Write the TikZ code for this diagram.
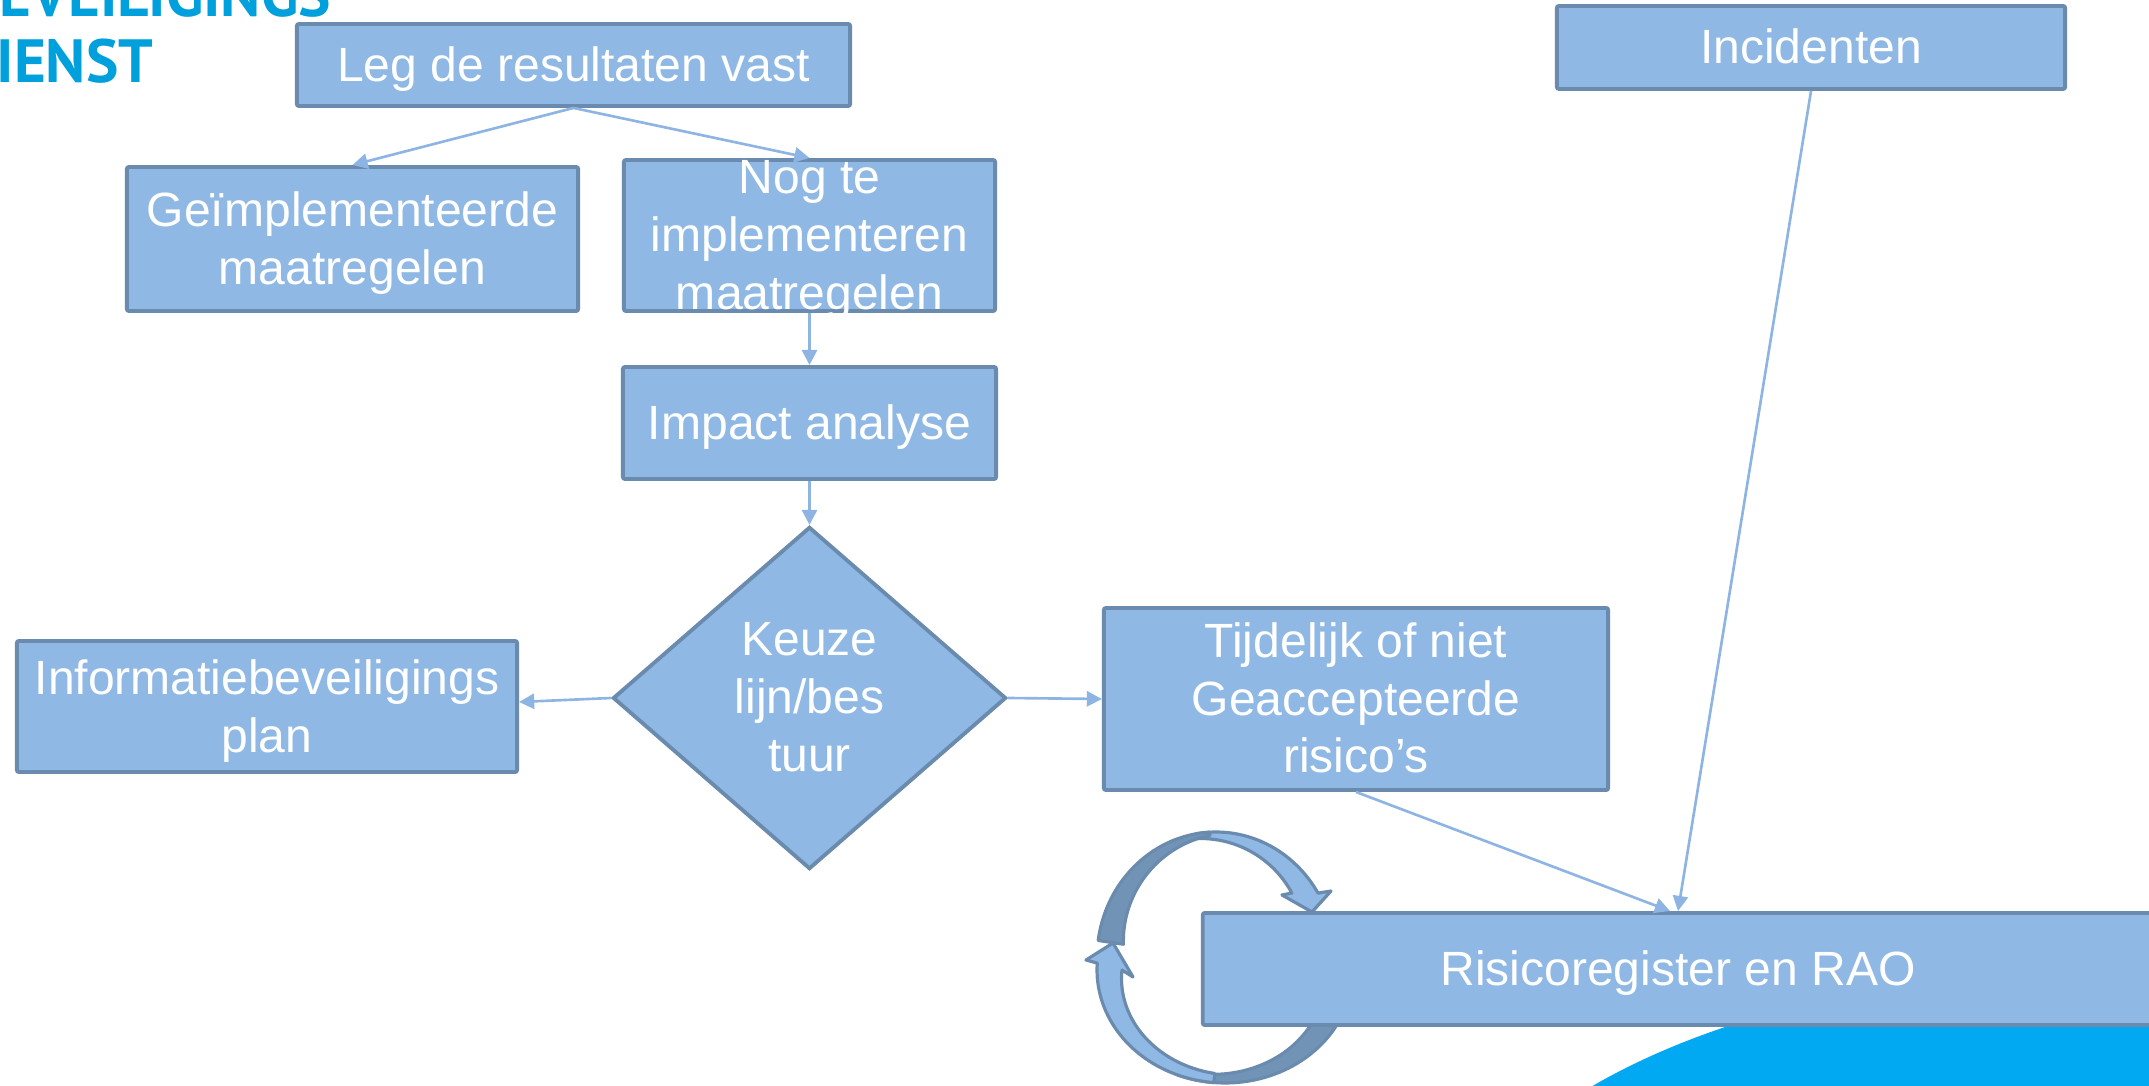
\documentclass[tikz,border=0pt]{standalone}
\usepackage{fontspec}
\setmainfont{Liberation Sans}
\newfontfamily\hdrfont{PT Sans}
\usetikzlibrary{arrows.meta,shapes.geometric}
\definecolor{boxfill}{RGB}{143,185,228}
\definecolor{boxline}{RGB}{106,139,173}
\definecolor{linkcol}{RGB}{141,180,226}
\definecolor{backface}{RGB}{113,148,182}
\definecolor{blob}{RGB}{0,169,241}
\definecolor{hdr}{RGB}{0,160,220}
\tikzset{
  box/.style={draw=boxline, fill=boxfill, line width=1.1pt, rounded corners=0.6pt, inner sep=0pt, rectangle},
  lbl/.style={text=white, inner sep=0pt, align=center, font=\fontsize{13.66}{16.39}\selectfont},
  link/.style={draw=linkcol, line width=0.75pt, -{Triangle[length=4.3pt,width=4.3pt]}},
  ring/.style={draw=boxline, line width=0.9pt, line join=round},
  hdrtext/.style={anchor=base west, inner sep=0pt, text=hdr, font=\hdrfont\bfseries\fontsize{17.36}{20}\selectfont},
}
\begin{document}
\begin{tikzpicture}[x=0.01cm, y=-0.01cm]
\useasboundingbox (0,0) rectangle (2149,1086);
\clip (0,0) rectangle (2149,1086);

% decorative blob
\fill[blob] (2100,1300) ellipse [x radius=6.66cm, y radius=3.3cm];

% circular arrows: top arrow
\filldraw[ring, fill=boxfill] plot[domain=100:31, samples=40] ({1216+119*cos(\x)},{958-126*sin(\x)})
  -- (1331,891) -- (1312,912) -- (1282,895) -- (1292,893)
  -- plot[domain=39:100, samples=40] ({1216+119*(0.82+(\x-39)*0.00233)*cos(\x)},{958-126*(0.82+(\x-39)*0.00233)*sin(\x)})
  -- cycle;
\filldraw[ring, fill=backface] plot[domain=172:93, samples=40] ({1216+119*cos(\x)},{958-126*sin(\x)})
  -- plot[domain=93:172, samples=40] ({1216+119*(0.975-(\x-93)*0.0024)*cos(\x)},{958-126*(0.975-(\x-93)*0.0024)*sin(\x)})
  -- cycle;
% bottom arrow
\filldraw[ring, fill=backface] plot[domain=-20:-112, samples=40] ({1225+128*cos(\x)},{970-113*sin(\x)})
  -- plot[domain=-112:-20, samples=40] ({1225+128*(0.8+(-20-(\x))*0.0017)*cos(\x)},{970-113*(0.8+(-20-(\x))*0.0017)*sin(\x)})
  -- cycle;
\filldraw[ring, fill=boxfill] plot[domain=-95:-183.5, samples=40] ({1225+128*cos(\x)},{970-113*sin(\x)})
  -- (1086,960) -- (1113,943) -- (1133,977) -- (1122,970)
  -- plot[domain=-180:-95, samples=40] ({1225+128*(0.805+((\x)+180)*0.00135)*cos(\x)},{970-113*(0.805+((\x)+180)*0.00135)*sin(\x)})
  -- cycle;

% boxes
\node[box, minimum width=5.53cm, minimum height=0.82cm] (leg) at (573.5,65) {};
\node[box, minimum width=4.51cm, minimum height=1.44cm] (geim) at (352.5,239) {};
\node[box, minimum width=3.71cm, minimum height=1.51cm] (nog) at (809.5,235.5) {};
\node[box, minimum width=3.73cm, minimum height=1.12cm] (imp) at (809.5,423) {};
\node[draw=boxline, fill=boxfill, line width=1.1pt, diamond, inner sep=0pt,
      minimum width=3.93cm, minimum height=3.42cm] (dia) at (809.5,698) {};
\node[box, minimum width=5.00cm, minimum height=1.31cm] (info) at (267,706.5) {};
\node[box, minimum width=5.04cm, minimum height=1.82cm] (tij) at (1356,699) {};
\node[box, minimum width=5.08cm, minimum height=0.83cm] (inc) at (1811,47.5) {};
\node[box, minimum width=9.50cm, minimum height=1.12cm] (ris) at (1678,969) {};

% connectors
\draw[link] (leg.south) -- (geim.north);
\draw[link] (leg.south) -- (nog.north);
\draw[link] (nog.south) -- (imp.north);
\draw[link] (imp.south) -- (dia.north);
\draw[link] (dia.west) -- ([yshift=0.045cm]info.east);
\draw[link] (dia.east) -- (tij.west);
\draw[link] (tij.south) -- ([xshift=-0.08cm]ris.north);
\draw[link] (inc.south) -- (ris.north);

% labels
\node[lbl] (legT) at (573.5,69.4) {Leg de resultaten vast};
\node[lbl] (geimT) at (352.5,243.2) {Geïmplementeerde\\maatregelen};
\node[lbl] (nogT) at (809.5,239.9) {Nog te\\implementeren\\maatregelen};
\node[lbl] (impT) at (809.5,427.4) {Impact analyse};
\node[lbl] (diaT) at (809.5,697.3) {Keuze\\lijn/bes\\tuur};
\node[lbl] (infoT) at (267,710.9) {Informatiebeveiligings\\plan};
\node[lbl] (tijT) at (1356,698) {Tijdelijk of niet\\Geaccepteerde\\risico’s};
\node[lbl] (incT) at (1811,46.8) {Incidenten};
\node[lbl] (risT) at (1678,973.3) {Risicoregister en RAO};

% header text (cropped)
\node[hdrtext] (h1) at (-1,17) {EVEILIGINGS};
\node[hdrtext] (h2) at (-4,83) {IENST};
\end{tikzpicture}
\end{document}
